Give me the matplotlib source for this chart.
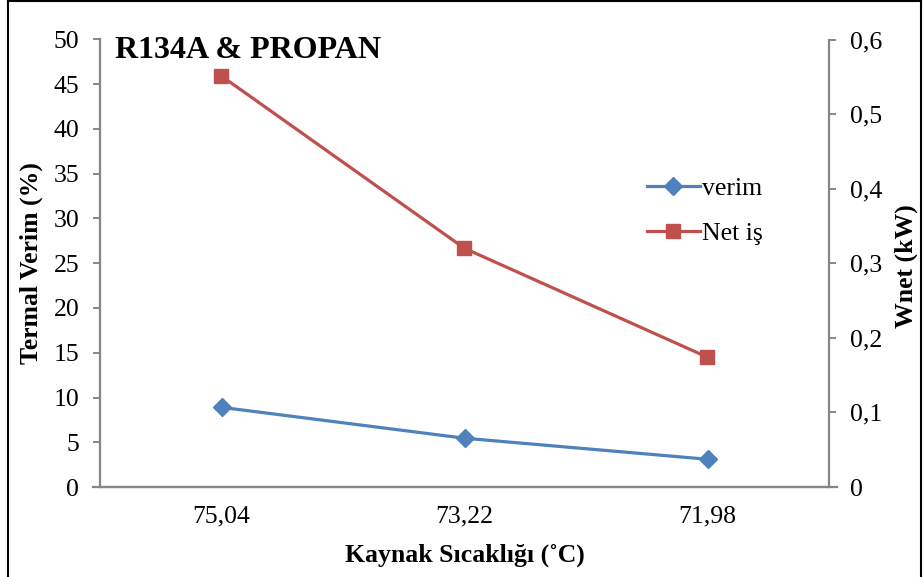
import matplotlib
matplotlib.use("Agg")
import matplotlib.pyplot as plt
from matplotlib.lines import Line2D

categories = ["75,04", "73,22", "71,98"]
verim = [8.9, 5.45, 3.1]          # Termal Verim (%)
net_is = [0.551, 0.32, 0.174]     # Wnet (kW)
left_ticks = [0, 5, 10, 15, 20, 25, 30, 35, 40, 45, 50]
right_ticks = [0, 0.1, 0.2, 0.3, 0.4, 0.5, 0.6]
right_labels = ["0", "0,1", "0,2", "0,3", "0,4", "0,5", "0,6"]

BLUE = "#4F81BD"
RED = "#C0504D"
GRAY = "#868686"

plt.rcParams["font.family"] = ["Liberation Serif", "DejaVu Serif"]

W, H = 923, 577
fig = plt.figure(figsize=(W / 100, H / 100), dpi=100)
ax1 = fig.add_axes([100 / W, 1 - 487 / H, 729 / W, 447.5 / H])
ax2 = ax1.twinx()

x = list(range(len(categories)))
ax1.plot(x, verim, "-D", color=BLUE, lw=2.3, ms=9, label="verim")
ax2.plot(x, net_is, "-s", color=RED, lw=2.3, ms=10, label="Net iş")

ax1.set_xlim(-0.5, len(categories) - 0.5)
ax1.set_ylim(0, 50)
ax2.set_ylim(0, 0.6)
ax1.set_yticks(left_ticks)
ax2.set_yticks(right_ticks)
ax2.set_yticklabels(right_labels)
ax1.set_xticks(x)
ax1.set_xticklabels(categories)

for ax in (ax1, ax2):
    for s in ax.spines.values():
        s.set_visible(False)
ax1.spines["left"].set_visible(True)
ax1.spines["bottom"].set_visible(True)
ax2.spines["right"].set_visible(True)
for s in (ax1.spines["left"], ax1.spines["bottom"], ax2.spines["right"]):
    s.set_color(GRAY)
    s.set_linewidth(1.6)

ax1.tick_params(axis="y", direction="out", length=5, width=1.4, color=GRAY,
                labelsize=18.5, pad=10)
ax1.tick_params(axis="x", length=0, labelsize=18.5, pad=13)
ax2.tick_params(axis="y", direction="out", length=5, width=1.4, color=GRAY,
                labelsize=18.5, pad=10)

# bottom axis line extends to the tick ends on both sides
ax1.plot([-0.5 - 7 / 243, 2.5 + 8 / 243], [0, 0], color=GRAY, lw=1.6,
         clip_on=False, zorder=0)

fig.text(115 / W, 1 - 51 / H, "R134A & PROPAN", fontsize=23, fontweight="bold",
         va="center", ha="left")
fig.text(31 / W, 1 - 263 / H, "Termal Verim (%)", fontsize=18.5, fontweight="bold",
         rotation=90, va="center", ha="center")
fig.text(906 / W, 1 - 266 / H, "Wnet (kW)", fontsize=18.5, fontweight="bold",
         rotation=90, va="center", ha="center")
fig.text(465 / W, 1 - 555 / H, "Kaynak Sıcaklığı (˚C)", fontsize=18.5,
         fontweight="bold", va="center", ha="center")

handles = [Line2D([], [], color=BLUE, lw=2.3, marker="D", ms=9),
           Line2D([], [], color=RED, lw=2.3, marker="s", ms=10)]
fig.legend(handles, ["verim", "Net iş"], loc="upper left",
           bbox_to_anchor=(647 / W, 1 - 177 / H), bbox_transform=fig.transFigure,
           frameon=False, fontsize=18.5, handlelength=2.05, handletextpad=0.1,
           labelspacing=0.85, borderpad=0, borderaxespad=0)

# outer frame of the picture
frame_kw = dict(color="black", lw=1.5, transform=fig.transFigure)
fig.add_artist(Line2D([8 / W, 921 / W], [1 - 1 / H, 1 - 1 / H], **frame_kw))
fig.add_artist(Line2D([8 / W, 8 / W], [0, 1 - 1 / H], **frame_kw))
fig.add_artist(Line2D([921 / W, 921 / W], [0, 1 - 1 / H], **frame_kw))

fig.savefig("out.png", dpi=100)
